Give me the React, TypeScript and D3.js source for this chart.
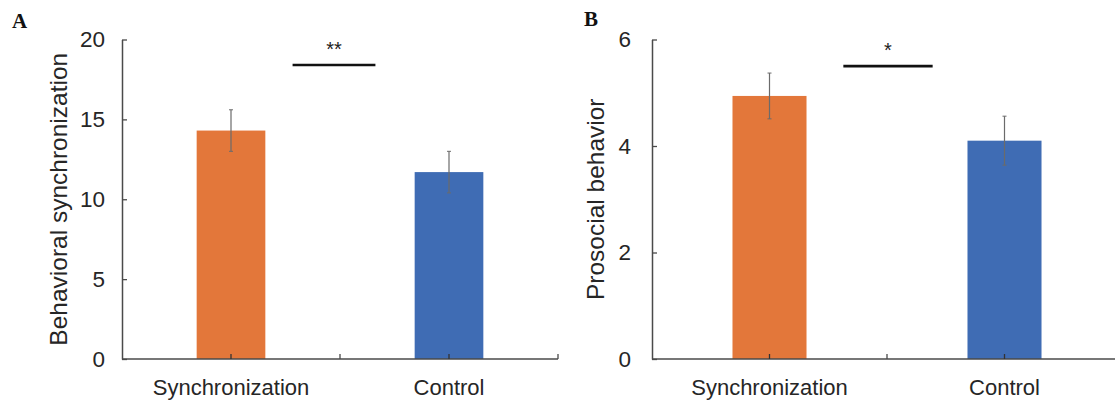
import {useEffect, useRef} from "react";
import * as d3 from "d3";

const categories = ["Synchronization", "Control"];
const barColors = ["#E3773A", "#3F6CB4"];

// Panel A
const behavioralMeans = [14.3, 11.7];
const behavioralErrors = [1.3, 1.3];
const behavioralTicks = [0, 5, 10, 15, 20];
const behavioralSig = "**";
const behavioralSigLevel = 18.4;

// Panel B
const prosocialMeans = [4.94, 4.1];
const prosocialErrors = [0.43, 0.46];
const prosocialTicks = [0, 2, 4, 6];
const prosocialSig = "*";
const prosocialSigLevel = 5.5;

const sans = "Arial, 'Liberation Sans', sans-serif";
const textColor = "#262626";
const axisColor = "#4a4a4a";

export default function App() {
    const ref = useRef<SVGSVGElement>(null);

    useEffect(() => {
        const el = ref.current;
        if(!el) return;
        const svg = d3.select(el);
        svg.selectAll("*").remove();

        const panels = [
            {
                letter: "A", letterX: 12, letterY: 28,
                title: "Behavioral synchronization", titleX: 58,
                means: behavioralMeans, errors: behavioralErrors, ticks: behavioralTicks,
                sig: behavioralSig, sigLevel: behavioralSigLevel, sigShift: -6,
                x0: 122, x1: 558, pad: 17,
            },
            {
                letter: "B", letterX: 584, letterY: 26,
                title: "Prosocial behavior", titleX: 595,
                means: prosocialMeans, errors: prosocialErrors, ticks: prosocialTicks,
                sig: prosocialSig, sigLevel: prosocialSigLevel, sigShift: 1,
                x0: 652, x1: 1122, pad: 21,
            },
        ];

        const yTop = 39.5;
        const yBottom = 359;

        panels.forEach((p) => {
            const g = svg.append("g");
            const x = d3.scaleBand<string>().domain(categories).range([p.x0, p.x1]).padding(0);
            const y = d3
                .scaleLinear()
                .domain([0, d3.max(p.ticks) as number])
                .range([yBottom, yTop]);
            const bw = x.bandwidth() * 0.315;

            // bars
            g.selectAll("rect.bar")
                .data(categories)
                .join("rect")
                .attr("class", "bar")
                .attr("x", (d) => (x(d) as number) + x.bandwidth() / 2 - bw / 2)
                .attr("y", (d, i) => y(p.means[i]))
                .attr("width", bw)
                .attr("height", (d, i) => y(0) - y(p.means[i]))
                .attr("fill", (d, i) => barColors[i]);

            // error bars
            categories.forEach((c, i) => {
                const cx = (x(c) as number) + x.bandwidth() / 2;
                const hi = y(p.means[i] + p.errors[i]);
                const lo = y(p.means[i] - p.errors[i]);
                g.append("line")
                    .attr("x1", cx).attr("x2", cx)
                    .attr("y1", hi).attr("y2", lo)
                    .attr("stroke", "#6b6b6b")
                    .attr("stroke-width", 1.2);
                [hi, lo].forEach((yy) => {
                    g.append("line")
                        .attr("x1", cx - 2).attr("x2", cx + 2)
                        .attr("y1", yy).attr("y2", yy)
                        .attr("stroke", "#6b6b6b")
                        .attr("stroke-width", 1);
                });
            });

            // y axis
            g.append("g")
                .attr("transform", `translate(${p.x0},0)`)
                .call(
                    d3.axisLeft(y)
                        .tickValues(p.ticks)
                        .tickSizeInner(-5)
                        .tickSizeOuter(0)
                        .tickPadding(p.pad)
                        .tickFormat(d3.format("d"))
                )
                .call((a) => a.select(".domain").attr("stroke", axisColor).attr("stroke-width", 1.5))
                .call((a) => a.selectAll(".tick line").attr("stroke", axisColor).attr("stroke-width", 1.3))
                .call((a) =>
                    a.selectAll(".tick text")
                        .attr("fill", textColor)
                        .attr("font-size", 22.5)
                        .attr("font-family", sans)
                );

            // x axis
            g.append("line")
                .attr("x1", p.x0).attr("x2", p.x1)
                .attr("y1", yBottom).attr("y2", yBottom)
                .attr("stroke", axisColor)
                .attr("stroke-width", 1.5);
            const xTicks: number[] = [];
            categories.forEach((c) => {
                const s = x(c) as number;
                xTicks.push(s, s + x.bandwidth() / 2);
            });
            xTicks.push(p.x1);
            xTicks.forEach((t, i) => {
                if(i === 0) return;
                g.append("line")
                    .attr("x1", t).attr("x2", t)
                    .attr("y1", yBottom).attr("y2", yBottom - 5)
                    .attr("stroke", i % 2 === 1 ? "#333" : axisColor)
                    .attr("stroke-width", 1.3);
            });

            g.selectAll("text.cat")
                .data(categories)
                .join("text")
                .attr("class", "cat")
                .attr("x", (d) => (x(d) as number) + x.bandwidth() / 2)
                .attr("y", yBottom + 36)
                .attr("text-anchor", "middle")
                .attr("fill", textColor)
                .attr("font-size", 22)
                .attr("font-family", sans)
                .text((d) => d);

            // y title
            g.append("text")
                .attr("transform", `translate(${p.titleX},${(yTop + yBottom) / 2}) rotate(-90)`)
                .attr("text-anchor", "middle")
                .attr("dy", "0.35em")
                .attr("fill", textColor)
                .attr("font-size", 24.5)
                .attr("font-family", sans)
                .text(p.title);

            // panel letter
            g.append("text")
                .attr("x", p.letterX)
                .attr("y", p.letterY)
                .attr("font-family", "'Times New Roman', 'Liberation Serif', serif")
                .attr("font-weight", "bold")
                .attr("font-size", 21)
                .attr("fill", "#111")
                .text(p.letter);

            // significance
            const mid = (x(categories[1]) as number) + p.sigShift;
            const half = x.bandwidth() * 0.19;
            const ys = y(p.sigLevel);
            g.append("line")
                .attr("x1", mid - half).attr("x2", mid + half)
                .attr("y1", ys).attr("y2", ys)
                .attr("stroke", "#111")
                .attr("stroke-width", 2.6);
            g.append("text")
                .attr("x", mid)
                .attr("y", ys - 9)
                .attr("text-anchor", "middle")
                .attr("font-family", sans)
                .attr("font-size", 20)
                .attr("fill", "#222")
                .text(p.sig);
        });
    }, []);

    return (
        <svg
            ref={ref}
            width={1115}
            height={404}
            style={{position: "absolute", left: 0, top: 0, background: "#fff"}}
        />
    );
}
